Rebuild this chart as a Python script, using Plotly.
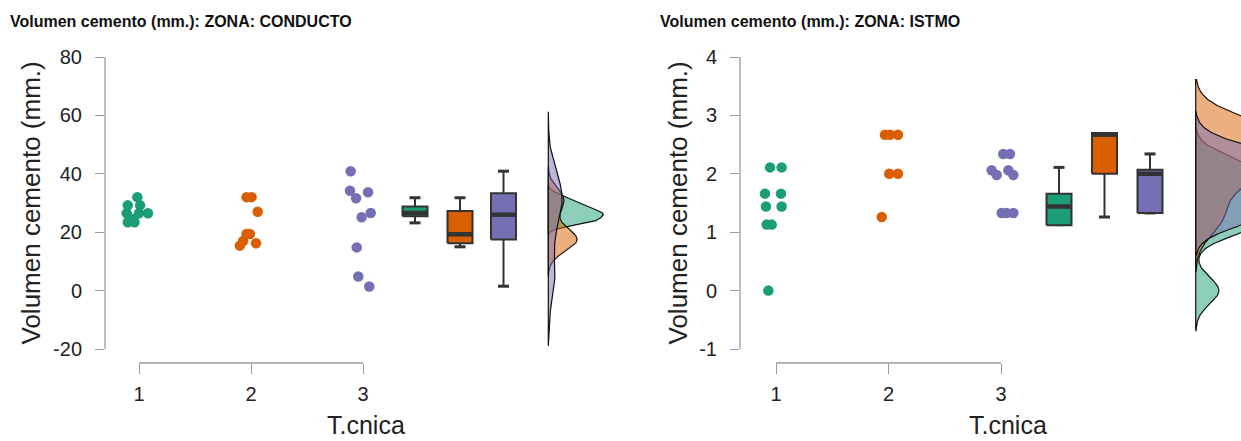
import numpy as np
import plotly.graph_objects as go

W, H = 1241, 441

# ---------------- data ----------------
groups = ["1", "2", "3"]
colors = ["#1b9e77", "#d95f02", "#7570b3"]
fills = ["rgba(27,158,119,0.5)", "rgba(217,95,2,0.5)", "rgba(117,112,179,0.5)"]

# ZONA: CONDUCTO – raw points (value) and horizontal jitter
conducto_g1 = [32.0, 29.2, 29.2, 26.5, 26.5, 26.5, 24.5, 23.4, 23.4]
conducto_g1_jit = [-0.015, -0.10, 0.01, -0.11, 0.0, 0.08, -0.05, -0.10, -0.04]
conducto_g2 = [32.0, 32.0, 27.0, 19.4, 19.4, 17.0, 15.4, 16.2]
conducto_g2_jit = [-0.04, 0.005, 0.06, -0.04, -0.01, -0.07, -0.10, 0.045]
conducto_g3 = [40.9, 34.2, 31.6, 33.7, 26.6, 25.1, 14.8, 4.8, 1.4]
conducto_g3_jit = [-0.11, -0.116, -0.062, 0.045, 0.069, -0.012, -0.056, -0.042, 0.056]

# box statistics (CONDUCTO)
conducto_q1 = [25.5, 16.2, 17.5]
conducto_med = [26.6, 19.3, 26.0]
conducto_q3 = [28.8, 27.3, 33.3]
conducto_lo = [23.2, 15.0, 1.5]
conducto_hi = [31.8, 31.8, 40.9]

# ZONA: ISTMO
istmo_g1 = [2.11, 2.11, 1.66, 1.66, 1.44, 1.44, 1.13, 1.13, 0.0]
istmo_g1_jit = [-0.053, 0.05, -0.098, 0.044, -0.089, 0.05, -0.083, -0.038, -0.068]
istmo_g2 = [2.67, 2.67, 2.67, 2.0, 2.0, 1.26]
istmo_g2_jit = [-0.031, 0.013, 0.084, 0.007, 0.084, -0.06]
istmo_g3 = [2.34, 2.34, 2.06, 1.98, 2.06, 1.98, 1.33, 1.33, 1.33]
istmo_g3_jit = [0.02, 0.08, -0.083, -0.038, 0.065, 0.11, 0.006, 0.05, 0.11]

istmo_q1 = [1.12, 2.0, 1.33]
istmo_med = [1.44, 2.67, 2.0]
istmo_q3 = [1.66, 2.70, 2.07]
istmo_lo = [1.13, 1.26, 1.33]
istmo_hi = [2.11, 2.67, 2.34]

y_ticks_conducto = [-20, 0, 20, 40, 60, 80]
y_ticks_istmo = [-1, 0, 1, 2, 3, 4]

title_conducto = "Volumen cemento (mm.): ZONA: CONDUCTO"
title_istmo = "Volumen cemento (mm.): ZONA: ISTMO"
y_title = "Volumen cemento (mm.)"
x_title = "T.cnica"

# ---------------- layout constants (pixels) ----------------
FONT = "Arial, Liberation Sans, sans-serif"
AXIS_GRAY = "#9a9a9a"
DARK = "#333333"

PLOT_TOP, PLOT_BOTTOM = 50, 363


def nrd0(x):
    x = np.asarray(x, float)
    n = len(x)
    sd = x.std(ddof=1)
    q75, q25 = np.percentile(x, [75, 25])
    iqr = (q75 - q25) / 1.34
    lo = min(sd, iqr) if iqr > 0 else sd
    return 0.9 * lo * n ** -0.2


def kde(x, adjust=1.0, npts=256):
    x = np.asarray(x, float)
    bw = nrd0(x) * adjust
    grid = np.linspace(x.min() - 3 * bw, x.max() + 3 * bw, npts)
    d = np.exp(-0.5 * ((grid[:, None] - x[None, :]) / bw) ** 2).sum(axis=1)
    d /= len(x) * bw * np.sqrt(2 * np.pi)
    return grid, d


fig = go.Figure()

panels = [
    dict(
        xa="x", ya="y",
        pts=[conducto_g1, conducto_g2, conducto_g3],
        jit=[conducto_g1_jit, conducto_g2_jit, conducto_g3_jit],
        q1=conducto_q1, med=conducto_med, q3=conducto_q3, lo=conducto_lo, hi=conducto_hi,
        x_axis_px=105, x_right_px=640, tick1_px=139, step_px=112.0,
        box_px=[415, 460, 503.5], base_px=548.3,
        y0_px=290.6, px_per_unit=2.92, bw_adjust=0.85,
        yticks=y_ticks_conducto, dens_max_px=55, dens_px_per_unit=None,
        title=title_conducto, title_x=8, ytitle_x=30, xtitle_x=366,
    ),
    dict(
        xa="x2", ya="y2",
        pts=[istmo_g1, istmo_g2, istmo_g3],
        jit=[istmo_g1_jit, istmo_g2_jit, istmo_g3_jit],
        q1=istmo_q1, med=istmo_med, q3=istmo_q3, lo=istmo_lo, hi=istmo_hi,
        x_axis_px=740, x_right_px=1241, tick1_px=776, step_px=112.5,
        box_px=[1059, 1104.5, 1150], base_px=1195.7,
        y0_px=290.6, px_per_unit=58.4, bw_adjust=1.0,
        yticks=y_ticks_istmo, dens_max_px=None, dens_px_per_unit=120,
        title=title_istmo, title_x=658, ytitle_x=677, xtitle_x=1008,
    ),
]

layout_axes = {}
shapes = []
annotations = []

for i, P in enumerate(panels):
    xa, ya = P["xa"], P["ya"]
    step = P["step_px"]

    def px2x(px, P=P):
        return 1 + (px - P["tick1_px"]) / P["step_px"]

    def px2y(py, P=P):
        return (P["y0_px"] - py) / P["px_per_unit"]

    # densities
    dens = [kde(p, P["bw_adjust"]) for p in P["pts"]]
    if P["dens_max_px"] is not None:
        mx = max(d.max() for _, d in dens)
        scale_px = P["dens_max_px"] / mx
    else:
        scale_px = P["dens_px_per_unit"]
    base = px2x(P["base_px"])
    for k, (g, d) in enumerate(dens):
        xs = np.concatenate([[base], base + d * scale_px / step, [base, base]])
        ys = np.concatenate([[g[0]], g, [g[-1], g[0]]])
        fig.add_trace(go.Scatter(
            x=xs, y=ys, xaxis=xa, yaxis=ya, mode="lines", fill="toself",
            fillcolor=fills[k], line=dict(color="#111111", width=1.2),
            hoverinfo="skip", showlegend=False))

    # boxes
    hw = 12.5 / step
    cap = 5.5 / step
    for k in range(3):
        p = px2x(P["box_px"][k])
        q1, md, q3 = P["q1"][k], P["med"][k], P["q3"][k]
        lo, hi = P["lo"][k], P["hi"][k]
        fig.add_trace(go.Scatter(
            x=[p, p, None, p, p], y=[q3, hi, None, q1, lo], xaxis=xa, yaxis=ya,
            mode="lines", line=dict(color=DARK, width=2), hoverinfo="skip", showlegend=False))
        fig.add_trace(go.Scatter(
            x=[p - cap, p + cap, None, p - cap, p + cap], y=[hi, hi, None, lo, lo],
            xaxis=xa, yaxis=ya, mode="lines", line=dict(color=DARK, width=3),
            hoverinfo="skip", showlegend=False))
        fig.add_trace(go.Scatter(
            x=[p - hw, p + hw, p + hw, p - hw, p - hw], y=[q1, q1, q3, q3, q1],
            xaxis=xa, yaxis=ya, mode="lines", fill="toself", fillcolor=colors[k],
            line=dict(color=DARK, width=2), hoverinfo="skip", showlegend=False))
        fig.add_trace(go.Scatter(
            x=[p - hw, p + hw], y=[md, md], xaxis=xa, yaxis=ya, mode="lines",
            line=dict(color=DARK, width=4.5), hoverinfo="skip", showlegend=False))

    # points
    for k in range(3):
        xs = [k + 1 + j for j in P["jit"][k]]
        fig.add_trace(go.Scatter(
            x=xs, y=P["pts"][k], xaxis=xa, yaxis=ya, mode="markers",
            marker=dict(color=colors[k], size=10.5, line=dict(width=0)),
            hoverinfo="skip", showlegend=False))

    xrange = [px2x(P["x_axis_px"]), px2x(P["x_right_px"])]
    yrange = [px2y(PLOT_BOTTOM), px2y(PLOT_TOP)]
    suffix = "" if i == 0 else "2"
    layout_axes["xaxis" + suffix] = dict(
        domain=[P["x_axis_px"] / W, min(P["x_right_px"] / W, 1.0)],
        range=xrange, anchor=ya, showgrid=False, zeroline=False, showline=False,
        tickmode="array", tickvals=[1, 2, 3], ticktext=groups,
        ticks="outside", ticklen=10, tickwidth=1.3, tickcolor=AXIS_GRAY,
        tickfont=dict(family=FONT, size=20, color="#222222"), ticklabelstandoff=3,
        automargin=False, fixedrange=True)
    layout_axes["yaxis" + suffix] = dict(
        domain=[(H - PLOT_BOTTOM) / H, (H - PLOT_TOP) / H],
        range=yrange, anchor=xa, showgrid=False, zeroline=False, showline=False,
        tickmode="array", tickvals=P["yticks"], ticktext=[str(t) for t in P["yticks"]],
        ticks="outside", ticklen=9, tickwidth=1.3, tickcolor=AXIS_GRAY,
        tickfont=dict(family=FONT, size=20, color="#222222"), ticklabelstandoff=9,
        automargin=False, fixedrange=True)

    shapes.append(dict(type="line", xref=xa + " domain", x0=0, x1=0, yref=ya,
                       y0=P["yticks"][0], y1=P["yticks"][-1],
                       line=dict(color=AXIS_GRAY, width=1.3)))
    shapes.append(dict(type="line", xref=xa, x0=1, x1=3, yref=ya + " domain",
                       y0=0, y1=0, line=dict(color=AXIS_GRAY, width=1.3)))

    annotations.append(dict(text="<b>" + P["title"] + "</b>", xref="paper", yref="paper",
                            x=P["title_x"] / W, y=1 - 21 / H, xanchor="left", yanchor="middle",
                            showarrow=False, font=dict(family=FONT, size=16, color="#111111")))
    annotations.append(dict(text=y_title, xref="paper", yref="paper",
                            x=P["ytitle_x"] / W, y=1 - 203.5 / H, xanchor="center", yanchor="middle",
                            textangle=-90, showarrow=False,
                            font=dict(family=FONT, size=26, color="#222222")))
    annotations.append(dict(text=x_title, xref="paper", yref="paper",
                            x=P["xtitle_x"] / W, y=1 - 425 / H, xanchor="center", yanchor="middle",
                            showarrow=False, font=dict(family=FONT, size=25, color="#222222")))

fig.update_layout(
    width=W, height=H, margin=dict(l=0, r=0, t=0, b=0, pad=0),
    paper_bgcolor="white", plot_bgcolor="white", showlegend=False,
    shapes=shapes, annotations=annotations, **layout_axes)

fig.write_html("out.html", config={"displayModeBar": False})
